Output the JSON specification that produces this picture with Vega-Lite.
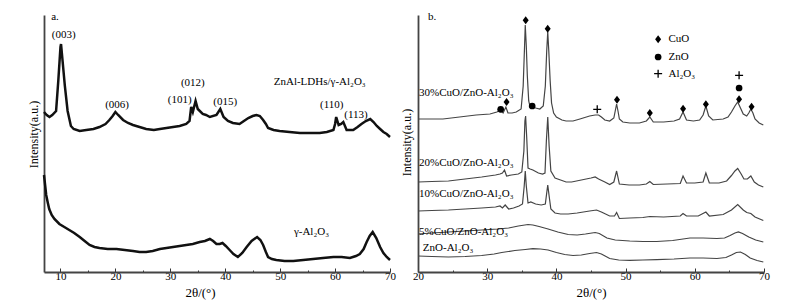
{
  "$schema": "https://vega.github.io/schema/vega-lite/v6.json",
  "background": "white",
  "padding": {"left": 27, "top": 10, "right": 5, "bottom": 5},
  "bounds": "flush",
  "spacing": 28,
  "config": {
    "view": {"stroke": null},
    "font": "Liberation Serif",
    "axis": {"labelFont": "Liberation Serif", "titleFont": "Liberation Serif", "labelColor": "#000", "titleColor": "#000", "titleFontWeight": "normal", "domainColor": "#444", "domainWidth": 1.8, "tickColor": "#333", "tickWidth": 1, "grid": false, "labelFontSize": 11, "labelFlush": false, "labelOverlap": false}
  },
  "datasets": {
    "a": [
      {"s":"LDH","x":7,"y":159},{"s":"LDH","x":7.5,"y":156},{"s":"LDH","x":8,"y":154},{"s":"LDH","x":8.5,"y":156},{"s":"LDH","x":9.2,"y":160},{"s":"LDH","x":9.6,"y":190},{"s":"LDH","x":10.0,"y":224},{"s":"LDH","x":10.1,"y":227},{"s":"LDH","x":10.3,"y":215},{"s":"LDH","x":10.8,"y":185},{"s":"LDH","x":11.3,"y":160},{"s":"LDH","x":11.9,"y":145},{"s":"LDH","x":12.4,"y":142},{"s":"LDH","x":13.5,"y":140},{"s":"LDH","x":14.7,"y":141},{"s":"LDH","x":16,"y":142},{"s":"LDH","x":17.1,"y":144},{"s":"LDH","x":18.2,"y":147},{"s":"LDH","x":18.9,"y":151},{"s":"LDH","x":19.5,"y":155},{"s":"LDH","x":20.0,"y":159},{"s":"LDH","x":20.5,"y":156},{"s":"LDH","x":21.4,"y":151},{"s":"LDH","x":22.3,"y":148},{"s":"LDH","x":23.2,"y":146},{"s":"LDH","x":24.4,"y":144},{"s":"LDH","x":25.6,"y":142},{"s":"LDH","x":27,"y":141},{"s":"LDH","x":28.1,"y":142},{"s":"LDH","x":29.3,"y":143},{"s":"LDH","x":30.5,"y":144},{"s":"LDH","x":31.7,"y":145},{"s":"LDH","x":32.9,"y":147},{"s":"LDH","x":33.5,"y":150},{"s":"LDH","x":33.8,"y":164},{"s":"LDH","x":34.1,"y":159},{"s":"LDH","x":34.6,"y":170},{"s":"LDH","x":35.0,"y":162},{"s":"LDH","x":35.9,"y":157},{"s":"LDH","x":36.5,"y":156},{"s":"LDH","x":37.2,"y":154},{"s":"LDH","x":38.4,"y":156},{"s":"LDH","x":39.1,"y":162},{"s":"LDH","x":39.7,"y":154},{"s":"LDH","x":40.5,"y":150},{"s":"LDH","x":41.4,"y":148},{"s":"LDH","x":42.6,"y":147},{"s":"LDH","x":43.4,"y":150},{"s":"LDH","x":44.2,"y":153},{"s":"LDH","x":45.0,"y":155},{"s":"LDH","x":45.7,"y":156},{"s":"LDH","x":46.3,"y":155},{"s":"LDH","x":46.9,"y":151},{"s":"LDH","x":47.4,"y":147},{"s":"LDH","x":47.8,"y":143},{"s":"LDH","x":48.8,"y":141},{"s":"LDH","x":49.9,"y":140},{"s":"LDH","x":51.7,"y":139},{"s":"LDH","x":53.6,"y":138},{"s":"LDH","x":55.4,"y":138},{"s":"LDH","x":57.2,"y":138},{"s":"LDH","x":58.5,"y":139},{"s":"LDH","x":59.7,"y":141},{"s":"LDH","x":60.0,"y":147},{"s":"LDH","x":60.2,"y":154},{"s":"LDH","x":60.65,"y":146},{"s":"LDH","x":61.1,"y":147},{"s":"LDH","x":61.5,"y":149},{"s":"LDH","x":62.1,"y":141},{"s":"LDH","x":63.3,"y":141},{"s":"LDH","x":64.1,"y":144},{"s":"LDH","x":64.8,"y":147},{"s":"LDH","x":65.6,"y":150},{"s":"LDH","x":66.4,"y":152},{"s":"LDH","x":67.0,"y":149},{"s":"LDH","x":67.6,"y":145},{"s":"LDH","x":68.2,"y":142},{"s":"LDH","x":68.8,"y":139},{"s":"LDH","x":69.4,"y":137},{"s":"LDH","x":70,"y":134},
      {"s":"Al","x":7,"y":96},{"s":"Al","x":7.2,"y":86},{"s":"Al","x":7.4,"y":76},{"s":"Al","x":7.7,"y":68},{"s":"Al","x":7.95,"y":62},{"s":"Al","x":8.4,"y":56},{"s":"Al","x":8.9,"y":52},{"s":"Al","x":9.8,"y":47},{"s":"Al","x":10.7,"y":44},{"s":"Al","x":11.6,"y":41},{"s":"Al","x":12.5,"y":38},{"s":"Al","x":13.5,"y":34},{"s":"Al","x":14.4,"y":30},{"s":"Al","x":15.3,"y":26},{"s":"Al","x":16.2,"y":24},{"s":"Al","x":17.1,"y":23},{"s":"Al","x":18.6,"y":22},{"s":"Al","x":20.2,"y":22},{"s":"Al","x":21.7,"y":21},{"s":"Al","x":23.2,"y":20},{"s":"Al","x":24.4,"y":19},{"s":"Al","x":25.6,"y":19},{"s":"Al","x":26.8,"y":20},{"s":"Al","x":28.1,"y":22},{"s":"Al","x":29.3,"y":23},{"s":"Al","x":30.5,"y":24},{"s":"Al","x":31.7,"y":25},{"s":"Al","x":32.9,"y":26},{"s":"Al","x":34.1,"y":27},{"s":"Al","x":35.35,"y":29},{"s":"Al","x":36.3,"y":30},{"s":"Al","x":37.2,"y":32},{"s":"Al","x":37.8,"y":30},{"s":"Al","x":38.4,"y":27},{"s":"Al","x":39.0,"y":27},{"s":"Al","x":39.5,"y":28},{"s":"Al","x":40.1,"y":25},{"s":"Al","x":40.8,"y":21},{"s":"Al","x":41.5,"y":17},{"s":"Al","x":42.3,"y":14},{"s":"Al","x":43.1,"y":18},{"s":"Al","x":43.9,"y":24},{"s":"Al","x":44.8,"y":30},{"s":"Al","x":45.8,"y":34},{"s":"Al","x":46.4,"y":31},{"s":"Al","x":46.9,"y":26},{"s":"Al","x":47.4,"y":19},{"s":"Al","x":47.8,"y":14},{"s":"Al","x":48.5,"y":12},{"s":"Al","x":49.3,"y":11},{"s":"Al","x":50.8,"y":10},{"s":"Al","x":52.4,"y":10},{"s":"Al","x":54.2,"y":11},{"s":"Al","x":56.0,"y":12},{"s":"Al","x":57.8,"y":13},{"s":"Al","x":59.7,"y":14},{"s":"Al","x":61.2,"y":14},{"s":"Al","x":62.7,"y":13},{"s":"Al","x":63.8,"y":15},{"s":"Al","x":64.5,"y":17},{"s":"Al","x":65.2,"y":22},{"s":"Al","x":65.75,"y":29},{"s":"Al","x":66.3,"y":35},{"s":"Al","x":66.85,"y":39},{"s":"Al","x":67.5,"y":33},{"s":"Al","x":68.2,"y":24},{"s":"Al","x":68.8,"y":18},{"s":"Al","x":69.4,"y":14},{"s":"Al","x":70,"y":11}
    ],
    "aText": [
      {"x":10.6,"y":236,"t":"(003)"},{"x":20.3,"y":166,"t":"(006)"},{"x":34.1,"y":188,"t":"(012)"},{"x":31.7,"y":171,"t":"(101)"},{"x":40.0,"y":169,"t":"(015)"},{"x":59.4,"y":166,"t":"(110)"},{"x":63.8,"y":156,"t":"(113)"},{"x":57.2,"y":189,"t":"ZnAl-LDHs/γ-Al₂O₃"},{"x":55.7,"y":39,"t":"γ-Al₂O₃"}
    ],
    "aLeft": [{"x":8.3,"y":254,"t":"a."}],
    "b": [
      {"s":"30","x":20,"y":152},{"s":"30","x":21.5,"y":152},{"s":"30","x":23.6,"y":152},{"s":"30","x":26,"y":154},{"s":"30","x":28.4,"y":156},{"s":"30","x":30.4,"y":157},{"s":"30","x":31.4,"y":159},{"s":"30","x":31.9,"y":161},{"s":"30","x":32.3,"y":158},{"s":"30","x":32.7,"y":164},{"s":"30","x":33.0,"y":158},{"s":"30","x":33.6,"y":158},{"s":"30","x":34.2,"y":159},{"s":"30","x":34.9,"y":162},{"s":"30","x":35.2,"y":185},{"s":"30","x":35.4,"y":225},{"s":"30","x":35.5,"y":246},{"s":"30","x":35.65,"y":225},{"s":"30","x":35.8,"y":195},{"s":"30","x":36.0,"y":170},{"s":"30","x":36.2,"y":164},{"s":"30","x":36.5,"y":164},{"s":"30","x":37.0,"y":163},{"s":"30","x":37.6,"y":162},{"s":"30","x":38.1,"y":165},{"s":"30","x":38.4,"y":185},{"s":"30","x":38.6,"y":220},{"s":"30","x":38.75,"y":239},{"s":"30","x":38.9,"y":220},{"s":"30","x":39.1,"y":190},{"s":"30","x":39.3,"y":168},{"s":"30","x":39.6,"y":158},{"s":"30","x":40.0,"y":154},{"s":"30","x":40.8,"y":151},{"s":"30","x":41.4,"y":150},{"s":"30","x":42.4,"y":150},{"s":"30","x":43.4,"y":152},{"s":"30","x":44.8,"y":155},{"s":"30","x":45.6,"y":156},{"s":"30","x":46.1,"y":156},{"s":"30","x":46.5,"y":154},{"s":"30","x":47.0,"y":151},{"s":"30","x":47.7,"y":150},{"s":"30","x":48.3,"y":153},{"s":"30","x":48.5,"y":160},{"s":"30","x":48.7,"y":167},{"s":"30","x":48.9,"y":160},{"s":"30","x":49.1,"y":152},{"s":"30","x":49.6,"y":149},{"s":"30","x":50.6,"y":148},{"s":"30","x":52.0,"y":148},{"s":"30","x":53.0,"y":150},{"s":"30","x":53.5,"y":154},{"s":"30","x":54.0,"y":149},{"s":"30","x":55.5,"y":149},{"s":"30","x":57.0,"y":150},{"s":"30","x":57.8,"y":152},{"s":"30","x":58.3,"y":159},{"s":"30","x":58.8,"y":151},{"s":"30","x":59.8,"y":150},{"s":"30","x":60.7,"y":151},{"s":"30","x":61.2,"y":156},{"s":"30","x":61.6,"y":165},{"s":"30","x":62.0,"y":155},{"s":"30","x":62.6,"y":151},{"s":"30","x":64.1,"y":152},{"s":"30","x":64.8,"y":154},{"s":"30","x":65.3,"y":159},{"s":"30","x":65.8,"y":165},{"s":"30","x":66.2,"y":169},{"s":"30","x":66.6,"y":163},{"s":"30","x":67.0,"y":157},{"s":"30","x":67.5,"y":155},{"s":"30","x":67.8,"y":158},{"s":"30","x":68.1,"y":162},{"s":"30","x":68.4,"y":158},{"s":"30","x":68.7,"y":152},{"s":"30","x":69.3,"y":148},{"s":"30","x":69.9,"y":146},
      {"s":"20","x":20,"y":89},{"s":"20","x":22,"y":89.5},{"s":"20","x":24.4,"y":90},{"s":"20","x":26.8,"y":92},{"s":"20","x":29.2,"y":94},{"s":"20","x":31.2,"y":96},{"s":"20","x":31.85,"y":97},{"s":"20","x":32.2,"y":98},{"s":"20","x":32.5,"y":101},{"s":"20","x":32.8,"y":95},{"s":"20","x":33.5,"y":96},{"s":"20","x":34.5,"y":97},{"s":"20","x":35.0,"y":99},{"s":"20","x":35.3,"y":120},{"s":"20","x":35.45,"y":150},{"s":"20","x":35.55,"y":155},{"s":"20","x":35.7,"y":135},{"s":"20","x":35.9,"y":103},{"s":"20","x":36.2,"y":102},{"s":"20","x":36.6,"y":101},{"s":"20","x":37.4,"y":98},{"s":"20","x":38.0,"y":97},{"s":"20","x":38.35,"y":98},{"s":"20","x":38.55,"y":130},{"s":"20","x":38.75,"y":154},{"s":"20","x":38.95,"y":125},{"s":"20","x":39.2,"y":100},{"s":"20","x":39.8,"y":93},{"s":"20","x":40.6,"y":91},{"s":"20","x":41.4,"y":89},{"s":"20","x":42.2,"y":89},{"s":"20","x":43.6,"y":91},{"s":"20","x":45.0,"y":93},{"s":"20","x":45.6,"y":94},{"s":"20","x":46.1,"y":92},{"s":"20","x":47.0,"y":89},{"s":"20","x":47.7,"y":86.5},{"s":"20","x":48.3,"y":89},{"s":"20","x":48.7,"y":100},{"s":"20","x":49.1,"y":87},{"s":"20","x":50.5,"y":86},{"s":"20","x":52.0,"y":86},{"s":"20","x":53.0,"y":87},{"s":"20","x":53.5,"y":89.5},{"s":"20","x":54.0,"y":86.5},{"s":"20","x":56.0,"y":87},{"s":"20","x":57.9,"y":87.5},{"s":"20","x":58.3,"y":95},{"s":"20","x":58.8,"y":88},{"s":"20","x":60.0,"y":88},{"s":"20","x":61.2,"y":89},{"s":"20","x":61.6,"y":98},{"s":"20","x":62.1,"y":88},{"s":"20","x":63.5,"y":88},{"s":"20","x":64.6,"y":90},{"s":"20","x":65.3,"y":95.5},{"s":"20","x":65.8,"y":100},{"s":"20","x":66.2,"y":102.5},{"s":"20","x":66.7,"y":97},{"s":"20","x":67.1,"y":92},{"s":"20","x":67.6,"y":92},{"s":"20","x":68.1,"y":95},{"s":"20","x":68.6,"y":89},{"s":"20","x":69.2,"y":86},{"s":"20","x":69.9,"y":84},
      {"s":"10","x":20,"y":60},{"s":"10","x":22,"y":60.5},{"s":"10","x":24.4,"y":61},{"s":"10","x":26.8,"y":62},{"s":"10","x":29.2,"y":63},{"s":"10","x":31.2,"y":64},{"s":"10","x":31.85,"y":65},{"s":"10","x":32.2,"y":63},{"s":"10","x":32.6,"y":66},{"s":"10","x":33.1,"y":62},{"s":"10","x":33.8,"y":63},{"s":"10","x":34.6,"y":65},{"s":"10","x":35.1,"y":67},{"s":"10","x":35.35,"y":85},{"s":"10","x":35.5,"y":100},{"s":"10","x":35.65,"y":85},{"s":"10","x":35.9,"y":68},{"s":"10","x":36.3,"y":69},{"s":"10","x":37.0,"y":67},{"s":"10","x":37.8,"y":66},{"s":"10","x":38.4,"y":67},{"s":"10","x":38.6,"y":78},{"s":"10","x":38.75,"y":86},{"s":"10","x":38.95,"y":75},{"s":"10","x":39.2,"y":62},{"s":"10","x":39.8,"y":58},{"s":"10","x":40.6,"y":57},{"s":"10","x":41.7,"y":57},{"s":"10","x":43.0,"y":58},{"s":"10","x":44.8,"y":60},{"s":"10","x":45.8,"y":61},{"s":"10","x":46.5,"y":59},{"s":"10","x":47.7,"y":55},{"s":"10","x":48.4,"y":55},{"s":"10","x":48.7,"y":58.5},{"s":"10","x":49.1,"y":52.5},{"s":"10","x":50.6,"y":53},{"s":"10","x":52.5,"y":53.5},{"s":"10","x":53.5,"y":54.5},{"s":"10","x":55.5,"y":54},{"s":"10","x":57.9,"y":55},{"s":"10","x":58.3,"y":57.5},{"s":"10","x":58.8,"y":55},{"s":"10","x":60.5,"y":55},{"s":"10","x":61.6,"y":59},{"s":"10","x":62.1,"y":55},{"s":"10","x":64.1,"y":56.5},{"s":"10","x":65.3,"y":61},{"s":"10","x":66.2,"y":66.5},{"s":"10","x":67.0,"y":61},{"s":"10","x":67.5,"y":58.5},{"s":"10","x":68.1,"y":57.5},{"s":"10","x":68.7,"y":54},{"s":"10","x":69.9,"y":50.5},
      {"s":"5","x":20,"y":37},{"s":"5","x":22,"y":38},{"s":"5","x":24.4,"y":39},{"s":"5","x":26.8,"y":40},{"s":"5","x":29.2,"y":41},{"s":"5","x":31.5,"y":42},{"s":"5","x":33.1,"y":43},{"s":"5","x":34.5,"y":45},{"s":"5","x":35.9,"y":46.5},{"s":"5","x":36.6,"y":46},{"s":"5","x":37.5,"y":44.5},{"s":"5","x":38.8,"y":42},{"s":"5","x":40.2,"y":39},{"s":"5","x":41.7,"y":36.5},{"s":"5","x":43.0,"y":36},{"s":"5","x":44.2,"y":37},{"s":"5","x":45.6,"y":38.5},{"s":"5","x":46.2,"y":37.5},{"s":"5","x":47.3,"y":33},{"s":"5","x":48.5,"y":31},{"s":"5","x":50.6,"y":30},{"s":"5","x":52.5,"y":29.5},{"s":"5","x":54.5,"y":29.5},{"s":"5","x":56.8,"y":30.5},{"s":"5","x":59.3,"y":33},{"s":"5","x":61.2,"y":33},{"s":"5","x":63.2,"y":32.5},{"s":"5","x":64.3,"y":33},{"s":"5","x":65.1,"y":35.5},{"s":"5","x":65.8,"y":38},{"s":"5","x":66.3,"y":39},{"s":"5","x":66.9,"y":37.5},{"s":"5","x":67.8,"y":34},{"s":"5","x":68.8,"y":31},{"s":"5","x":69.9,"y":29},
      {"s":"0","x":20,"y":15},{"s":"0","x":22,"y":14.5},{"s":"0","x":24.4,"y":14},{"s":"0","x":26.8,"y":14.5},{"s":"0","x":29.2,"y":15.5},{"s":"0","x":31,"y":17},{"s":"0","x":32.1,"y":18.5},{"s":"0","x":34.0,"y":20.5},{"s":"0","x":35.5,"y":21.5},{"s":"0","x":36.6,"y":22.3},{"s":"0","x":37.7,"y":22},{"s":"0","x":38.8,"y":21},{"s":"0","x":40,"y":18.5},{"s":"0","x":41.2,"y":16.5},{"s":"0","x":42.4,"y":15.5},{"s":"0","x":43.6,"y":16},{"s":"0","x":44.8,"y":17.5},{"s":"0","x":45.8,"y":18.5},{"s":"0","x":46.5,"y":17},{"s":"0","x":47.7,"y":12.5},{"s":"0","x":49,"y":11},{"s":"0","x":50.6,"y":10.7},{"s":"0","x":52.5,"y":11},{"s":"0","x":54.5,"y":11.3},{"s":"0","x":57,"y":12},{"s":"0","x":59.3,"y":13},{"s":"0","x":61.2,"y":13},{"s":"0","x":63.2,"y":12.5},{"s":"0","x":64.5,"y":13.5},{"s":"0","x":65.3,"y":16},{"s":"0","x":66.0,"y":18.5},{"s":"0","x":66.6,"y":19},{"s":"0","x":67.3,"y":16.5},{"s":"0","x":68.0,"y":13},{"s":"0","x":69,"y":10.5},{"s":"0","x":69.9,"y":9}
    ],
    "bMarks": [
      {"m":"ZnO","x":31.95,"y":161.7},{"m":"CuO","x":32.8,"y":169},{"m":"CuO","x":35.56,"y":250.7},{"m":"ZnO","x":36.5,"y":165},{"m":"CuO","x":38.74,"y":242.3},{"m":"Al2O3","x":45.9,"y":161.7},{"m":"CuO","x":48.76,"y":171.3},{"m":"CuO","x":53.5,"y":158},{"m":"CuO","x":58.3,"y":162.3},{"m":"CuO","x":61.6,"y":166.7},{"m":"Al2O3","x":66.4,"y":195.7},{"m":"ZnO","x":66.4,"y":183},{"m":"CuO","x":66.4,"y":171.7},{"m":"CuO","x":68.2,"y":164.3},
      {"m":"CuO","x":54.7,"y":231.7},{"m":"ZnO","x":54.7,"y":214},{"m":"Al2O3","x":54.7,"y":197.3}
    ],
    "bLeft": [
      {"x":20.15,"y":178,"t":"30%CuO/ZnO-Al₂O₃"},{"x":20.15,"y":108,"t":"20%CuO/ZnO-Al₂O₃"},{"x":20.15,"y":77,"t":"10%CuO/ZnO-Al₂O₃"},{"x":20.15,"y":39,"t":"5%CuO/ZnO-Al₂O₃"},{"x":20.7,"y":23,"t":"ZnO-Al₂O₃"},{"x":21.45,"y":254,"t":"b."},{"x":56.2,"y":231.7,"t":"CuO"},{"x":56.2,"y":214,"t":"ZnO"},{"x":56.2,"y":197.3,"t":"Al₂O₃"}
    ]
  },
  "hconcat": [
    {
      "width": 346,
      "height": 257,
      "encoding": {
        "x": {"field": "x", "type": "quantitative", "scale": {"domain": [7, 70], "nice": false, "zero": false},
          "axis": {"values": [10,15,20,25,30,35,40,45,50,55,60,65,70], "labelExpr": "datum.value % 10 === 0 ? datum.label : ''",
            "tickSize": {"condition": {"test": "datum.value % 10 === 0", "value": -4}, "value": -2},
            "labelPadding": 2, "title": "2θ/(°)", "titleFontSize": 13, "titleX": 156, "titleY": 20, "titleBaseline": "middle"}},
        "y": {"field": "y", "type": "quantitative", "scale": {"domain": [-1, 256], "nice": false, "zero": false},
          "axis": {"labels": false, "ticks": false, "title": "Intensity(a.u.)", "titleFontSize": 12, "titleX": -11, "titleY": 119, "titleBaseline": "middle", "titleAngle": -90}}
      },
      "layer": [
        {"data": {"name": "a"}, "mark": {"type": "line", "color": "#111", "strokeWidth": 2.5}, "encoding": {"detail": {"field": "s"}}},
        {"data": {"name": "aText"}, "mark": {"type": "text", "font": "Liberation Serif", "fontSize": 11, "align": "center", "baseline": "middle", "color": "#000"}, "encoding": {"text": {"field": "t"}}},
        {"data": {"name": "aLeft"}, "mark": {"type": "text", "font": "Liberation Serif", "fontSize": 11, "align": "left", "baseline": "middle", "color": "#000"}, "encoding": {"text": {"field": "t"}}}
      ]
    },
    {
      "width": 346,
      "height": 257,
      "encoding": {
        "x": {"field": "x", "type": "quantitative", "scale": {"domain": [20, 70], "nice": false, "zero": false},
          "axis": {"values": [20,25,30,35,40,45,50,55,60,65,70], "labelExpr": "datum.value % 10 === 0 ? datum.label : ''",
            "tickSize": {"condition": {"test": "datum.value % 10 === 0", "value": -4}, "value": -2},
            "labelPadding": 2, "title": "2θ/(°)", "titleFontSize": 13, "titleY": 20, "titleBaseline": "middle"}},
        "y": {"field": "y", "type": "quantitative", "scale": {"domain": [-1, 256], "nice": false, "zero": false},
          "axis": {"labels": false, "ticks": false, "title": "Intensity(a.u.)", "titleFontSize": 12, "titleX": -12, "titleY": 127, "titleBaseline": "middle", "titleAngle": -90}}
      },
      "layer": [
        {"data": {"name": "b"}, "mark": {"type": "line", "color": "#444", "strokeWidth": 1.2}, "encoding": {"detail": {"field": "s"}}},
        {"data": {"name": "bMarks"}, "transform": [{"filter": "datum.m === 'CuO'"}], "mark": {"type": "point", "shape": "M0,-1L0.75,0L0,1L-0.75,0Z", "size": 64, "filled": true, "color": "#000", "opacity": 1}},
        {"data": {"name": "bMarks"}, "transform": [{"filter": "datum.m === 'ZnO'"}], "mark": {"type": "point", "shape": "circle", "size": 45, "filled": true, "color": "#000", "opacity": 1}},
        {"data": {"name": "bMarks"}, "transform": [{"filter": "datum.m === 'Al2O3'"}], "mark": {"type": "point", "shape": "M-1,0L1,0M0,-1L0,1", "size": 64, "filled": false, "color": "#000", "strokeWidth": 1.3, "opacity": 1}},
        {"data": {"name": "bLeft"}, "mark": {"type": "text", "font": "Liberation Serif", "fontSize": 11, "align": "left", "baseline": "middle", "color": "#000"}, "encoding": {"text": {"field": "t"}}}
      ]
    }
  ]
}
